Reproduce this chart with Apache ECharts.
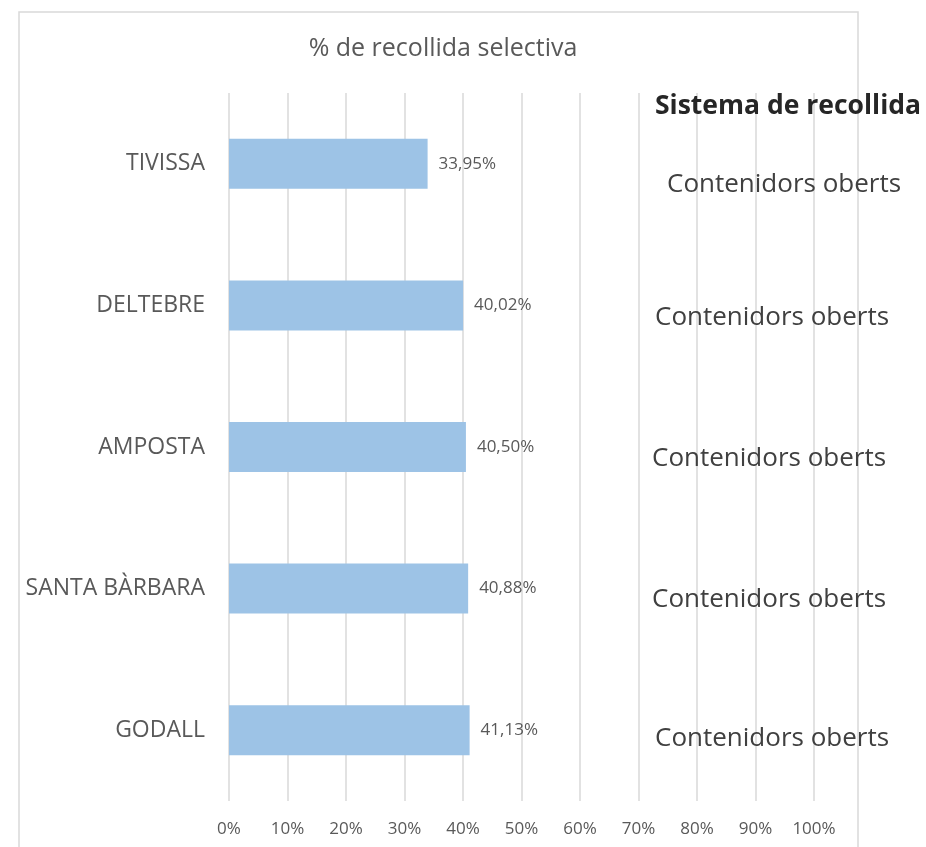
<!DOCTYPE html>
<html>
<head>
<meta charset="utf-8">
<title>% de recollida selectiva</title>
<script src="https://cdn.jsdelivr.net/npm/echarts@6/dist/echarts.min.js"></script>
<style>
  html, body { margin: 0; padding: 0; background: #fff; }
  #chart { width: 926px; height: 847px; }
</style>
</head>
<body>
<div id="chart"></div>
<script>
  // dades
  const municipis = ['TIVISSA', 'DELTEBRE', 'AMPOSTA', 'SANTA BÀRBARA', 'GODALL']
  const percentatges = [33.95, 40.02, 40.50, 40.88, 41.13]
  const sistemes = ['Contenidors oberts', 'Contenidors oberts', 'Contenidors oberts', 'Contenidors oberts', 'Contenidors oberts']
  const xTicks = [0, 10, 20, 30, 40, 50, 60, 70, 80, 90, 100]

  const fontFamily = '"Open Sans", "Noto Sans", sans-serif'
  const sistemaPos = [[667, 185], [655, 318], [652, 459], [652, 600], [655, 739]]

  const chart = echarts.init(document.getElementById('chart'), null, { renderer: 'canvas' })

  const graphics = [{
    type: 'rect',
    shape: { x: 19, y: 12, width: 839, height: 860 },
    style: { fill: 'none', stroke: '#d9d9d9', lineWidth: 1.5 },
    z: -1
  }, {
    type: 'text',
    x: 655,
    y: 106,
    style: {
      text: 'Sistema de recollida',
      font: 'bold 26.5px ' + fontFamily,
      fill: '#262626',
      verticalAlign: 'middle'
    },
    z: 10
  }]
  sistemes.forEach((s, i) => {
    graphics.push({
      type: 'text',
      x: sistemaPos[i][0],
      y: sistemaPos[i][1],
      style: {
        text: s,
        font: '26px ' + fontFamily,
        fill: '#404040',
        verticalAlign: 'middle'
      },
      z: 10
    })
  })

  chart.setOption({
    animation: false,
    title: {
      text: '% de recollida selectiva',
      left: 438,
      textAlign: 'center',
      top: 31,
      textStyle: { fontFamily, fontSize: 25, fontWeight: 'normal', color: '#595959' }
    },
    grid: {
      left: 229,
      right: 112,
      top: 93,
      bottom: 46,
      containLabel: false
    },
    xAxis: {
      type: 'value',
      min: xTicks[0],
      max: xTicks[xTicks.length - 1],
      interval: 10,
      axisLine: { show: false },
      axisTick: { show: false },
      splitLine: { lineStyle: { color: '#d9d9d9', width: 1.5 } },
      axisLabel: {
        formatter: '{value}%',
        margin: 20,
        fontFamily,
        fontSize: 17,
        color: '#595959'
      }
    },
    yAxis: {
      type: 'category',
      data: municipis,
      inverse: true,
      axisLine: { show: false },
      axisTick: { show: false },
      axisLabel: {
        margin: 24,
        fontFamily,
        fontSize: 23,
        color: '#595959'
      }
    },
    series: [{
      name: '% de recollida selectiva',
      type: 'bar',
      data: percentatges,
      barWidth: 50,
      itemStyle: { color: '#9dc3e6' },
      label: {
        show: true,
        position: 'right',
        distance: 11,
        fontFamily,
        fontSize: 17,
        color: '#595959',
        formatter: p => p.value.toFixed(2).replace('.', ',') + '%'
      }
    }],
    graphic: graphics
  })
</script>
</body>
</html>
